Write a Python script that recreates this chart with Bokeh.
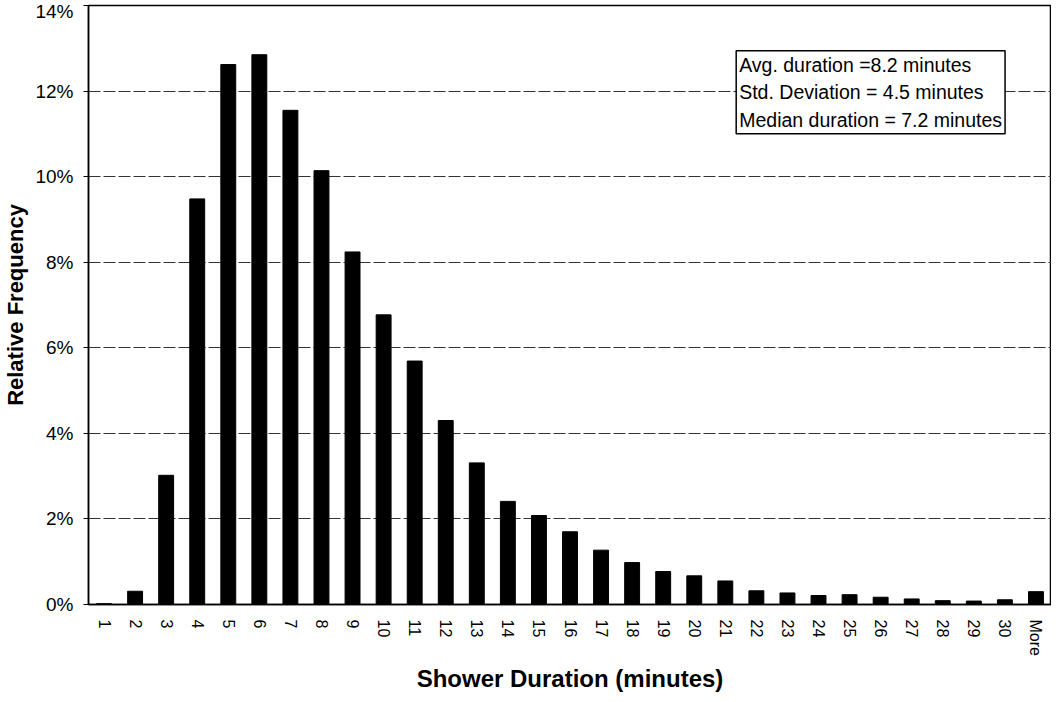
from bokeh.plotting import figure
from bokeh.models import FactorRange, Range1d, Label, PrintfTickFormatter, FixedTicker, ColumnDataSource
from bokeh.embed import file_html
from bokeh.resources import INLINE

# ---- data ----
durations = [str(i) for i in range(1, 31)] + ["More"]
rel_freq_pct = [0.02, 0.31, 3.02, 9.48, 12.62, 12.85, 11.55, 10.14, 8.24, 6.77,
                5.69, 4.30, 3.31, 2.41, 2.08, 1.70, 1.27, 0.98, 0.77, 0.67,
                0.55, 0.32, 0.27, 0.21, 0.23, 0.17, 0.13, 0.09, 0.08, 0.11, 0.30]
y_ticks = [0, 2, 4, 6, 8, 10, 12, 14]
stats_lines = ["Avg. duration =8.2 minutes",
               "Std. Deviation = 4.5 minutes",
               "Median duration = 7.2 minutes"]

FONT = "Liberation Sans"

src = ColumnDataSource(dict(x=durations, y=rel_freq_pct))

p = figure(x_range=FactorRange(factors=durations, range_padding=0),
           y_range=Range1d(0, 14),
           width=1051, height=694,
           output_backend="svg", toolbar_location=None,
           min_border_left=81, min_border_right=0,
           min_border_top=5, min_border_bottom=80)

p.vbar(x="x", top="y", width=0.48, source=src,
       fill_color="black", line_color="black")

p.background_fill_color = "white"
p.border_fill_color = "white"
p.outline_line_color = "black"
p.outline_line_width = 1.5

# grid
p.xgrid.grid_line_color = None
p.ygrid.grid_line_color = "#333333"
p.ygrid.grid_line_dash = "12 3"
p.ygrid.grid_line_width = 1

# y axis
p.yaxis.ticker = FixedTicker(ticks=y_ticks)
p.yaxis.formatter = PrintfTickFormatter(format="%d%%")
p.yaxis.axis_label = "Relative Frequency"
p.yaxis.axis_label_text_font = FONT
p.yaxis.axis_label_text_font_style = "bold"
p.yaxis.axis_label_text_font_size = "22px"
p.yaxis.axis_label_text_color = "black"
p.yaxis.axis_label_standoff = 4
p.yaxis.major_label_text_font = FONT
p.yaxis.major_label_text_font_size = "19px"
p.yaxis.major_label_text_color = "black"
p.yaxis.major_label_standoff = 10
p.yaxis.major_tick_out = 5
p.yaxis.major_tick_in = 0
p.yaxis.minor_tick_line_color = None
p.yaxis.axis_line_color = "black"
p.yaxis.axis_line_width = 1.5
p.yaxis.major_tick_line_color = "black"

# x axis
p.xaxis.axis_label = "Shower Duration (minutes)"
p.xaxis.axis_label_text_font = FONT
p.xaxis.axis_label_text_font_style = "bold"
p.xaxis.axis_label_text_font_size = "24px"
p.xaxis.axis_label_text_color = "black"
p.xaxis.axis_label_standoff = 6
p.xaxis.major_label_orientation = "vertical"
p.xaxis.major_label_text_font = FONT
p.xaxis.major_label_text_font_size = "16px"
p.xaxis.major_label_text_color = "black"
p.xaxis.major_label_standoff = 15
p.xaxis.major_tick_out = 0
p.xaxis.major_tick_in = 0
p.xaxis.major_tick_line_color = None
p.xaxis.axis_line_color = "black"
p.xaxis.axis_line_width = 1.5

# annotation box
lab = Label(x=20.85, y=12.94, x_units="data", y_units="data",
            text="\n".join(stats_lines), anchor="top_left",
            text_font=FONT, text_font_size="19.5px", text_color="black",
            text_line_height=1.25,
            border_line_color="black", border_line_width=1.5,
            background_fill_color="white", padding=3)
p.add_layout(lab)

open("out.html", "w").write(file_html(p, INLINE))
